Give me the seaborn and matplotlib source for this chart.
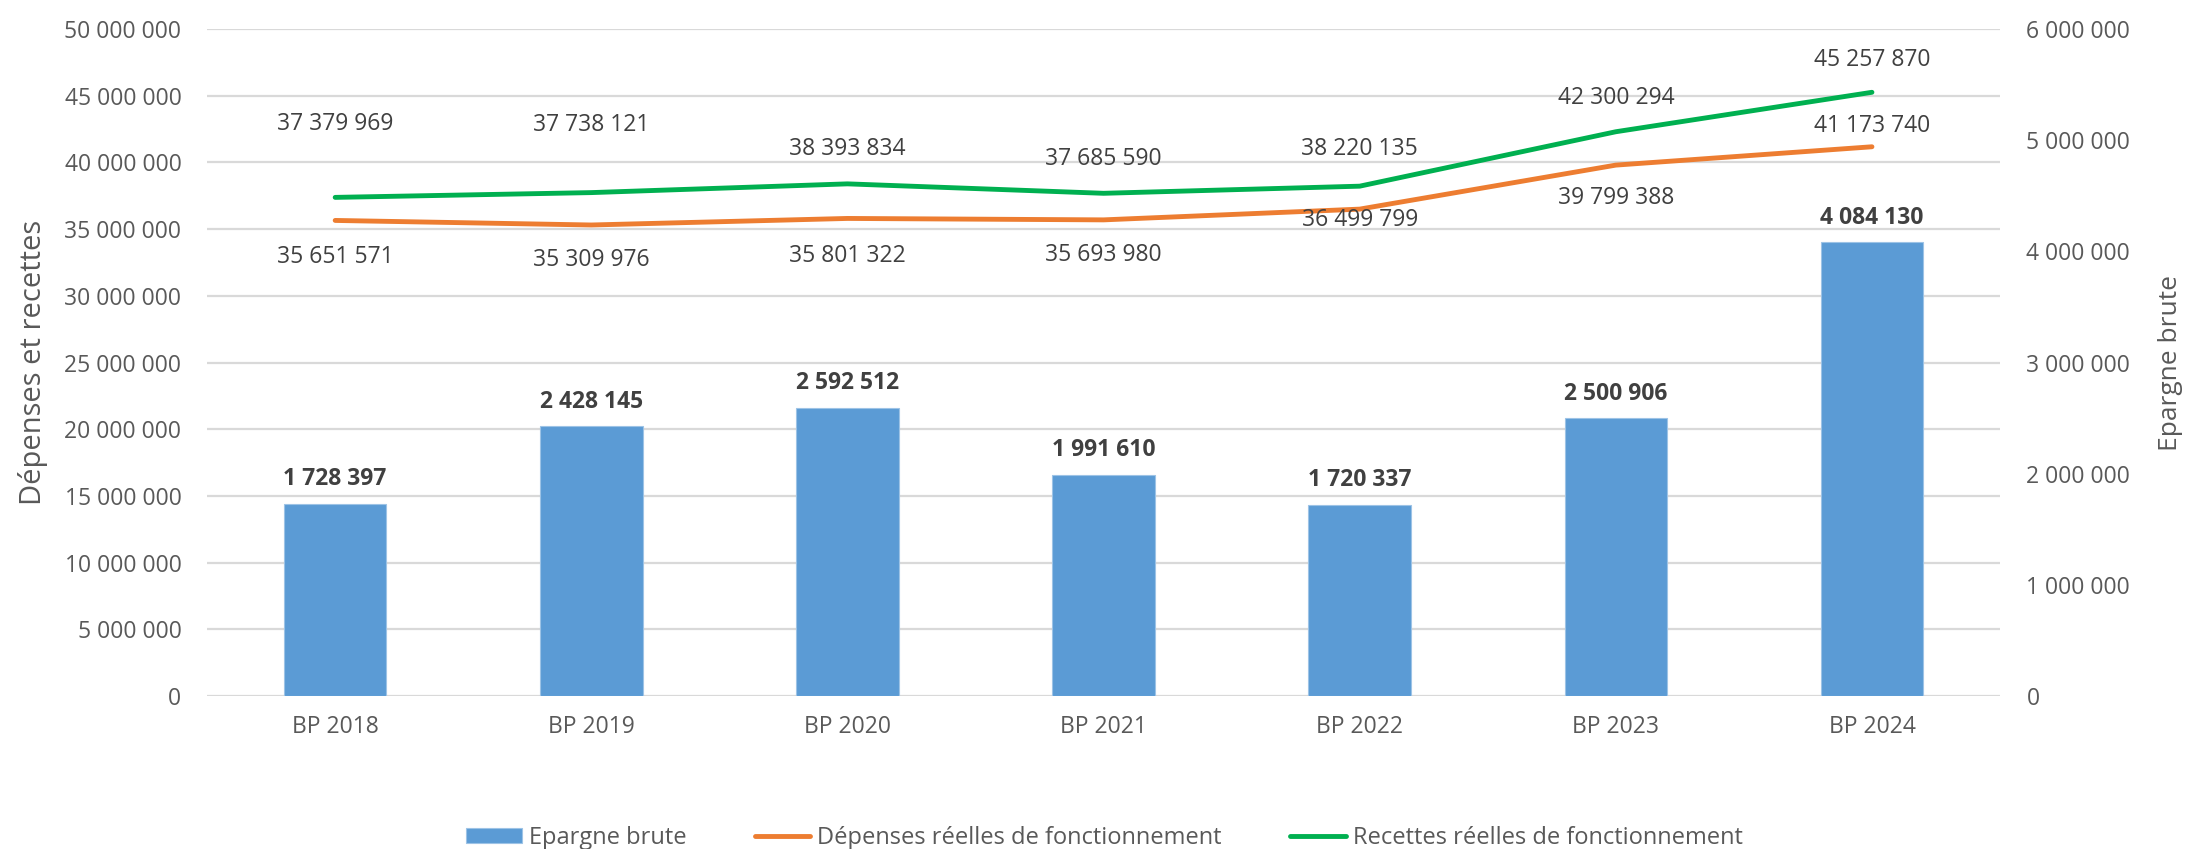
import matplotlib
matplotlib.use("Agg")
import matplotlib.pyplot as plt
import seaborn as sns
import pandas as pd
import numpy as np

categories = ["BP 2018", "BP 2019", "BP 2020", "BP 2021", "BP 2022", "BP 2023", "BP 2024"]
epargne_brute = [1728397, 2428145, 2592512, 1991610, 1720337, 2500906, 4084130]
depenses = [35651571, 35309976, 35801322, 35693980, 36499799, 39799388, 41173740]
recettes = [37379969, 37738121, 38393834, 37685590, 38220135, 42300294, 45257870]
left_ticks = list(range(0, 50000001, 5000000))
right_ticks = list(range(0, 6000001, 1000000))

# label offsets (points) for line data labels
rec_off = [53, 49, 25, 25, 27, 24, 23]
dep_off = [-26, -25, -27, -25, -8, -24, 15]

def fmt(v):
    return f"{v:,}".replace(",", " ")

sns.set_theme(style="white")
plt.rcParams["font.family"] = ["Open Sans", "DejaVu Sans"]

BLUE = "#5B9BD5"
ORANGE = "#ED7D31"
GREEN = "#00B050"
TXT = "#595959"
LBL = "#404040"
GRID = "#D9D9D9"

fig = plt.figure(figsize=(21.87, 8.49), dpi=100)
ax = fig.add_axes([0.0947, 0.1802, 0.9145 - 0.0947, 0.9658 - 0.1802])
ax2 = ax.twinx()

df = pd.DataFrame({"cat": categories, "ep": epargne_brute, "dep": depenses, "rec": recettes})

# bars on secondary axis
sns.barplot(data=df, x="cat", y="ep", ax=ax2, color=BLUE, width=0.4, saturation=1,
            edgecolor="#9DC3E6", linewidth=0.8, label="Epargne brute", zorder=2)
# lines on primary axis
sns.lineplot(data=df, x="cat", y="dep", ax=ax, color=ORANGE, linewidth=3.5,
             label="Dépenses réelles de fonctionnement", sort=False, zorder=3)
sns.lineplot(data=df, x="cat", y="rec", ax=ax, color=GREEN, linewidth=3.5,
             label="Recettes réelles de fonctionnement", sort=False, zorder=3)
for ln in ax.get_lines():
    ln.set_solid_capstyle("round")

# bring lines axis on top of bars
ax.set_zorder(ax2.get_zorder() + 1)
ax.patch.set_visible(False)

ax.set_xlim(-0.5, len(categories) - 0.5)
ax2.set_xlim(-0.5, len(categories) - 0.5)
ax.set_ylim(0, 50000000)
ax2.set_ylim(0, 6000000)
ax.set_yticks(left_ticks)
ax.set_yticklabels([fmt(v) for v in left_ticks])
ax2.set_yticks(right_ticks)
ax2.set_yticklabels([fmt(v) for v in right_ticks])

# gridlines (drawn on bar axis so they sit behind bars)
for v in left_ticks:
    ax2.axhline(v / 50000000 * 6000000, color=GRID, linewidth=1.6, zorder=0)

for a in (ax, ax2):
    for s in a.spines.values():
        s.set_visible(False)
    a.tick_params(axis="both", length=0, labelsize=16.5, colors=TXT)
    a.set_xlabel("")
ax.tick_params(axis="y", pad=18.5)
ax2.tick_params(axis="y", pad=19)
ax.tick_params(axis="x", pad=14)
ax2.tick_params(axis="x", labelbottom=False)

ax.set_ylabel("Dépenses et recettes", fontsize=21, color=TXT, labelpad=12)
ax2.set_ylabel("Epargne brute", fontsize=19, color=TXT, labelpad=20)

# data labels
for i, v in enumerate(epargne_brute):
    ax2.annotate(fmt(v), (i, v), xytext=(0, 9), textcoords="offset points",
                 ha="center", va="bottom", fontsize=16.5, fontweight="bold", color=LBL)
for i, v in enumerate(recettes):
    ax.annotate(fmt(v), (i, v), xytext=(0, rec_off[i]), textcoords="offset points",
                ha="center", va="center", fontsize=16.5, color=LBL)
for i, v in enumerate(depenses):
    ax.annotate(fmt(v), (i, v), xytext=(0, dep_off[i]), textcoords="offset points",
                ha="center", va="center", fontsize=16.5, color=LBL)

# legend
h1, l1 = ax2.get_legend_handles_labels()
h2, l2 = ax.get_legend_handles_labels()
if ax.get_legend():
    ax.get_legend().remove()
if ax2.get_legend():
    ax2.get_legend().remove()
fig.legend(h1 + h2, l1 + l2, loc="center", bbox_to_anchor=(0.505, 0.013), ncol=3,
           frameon=False, fontsize=17, labelcolor=TXT, handlelength=2.35,
           handleheight=0.6, handletextpad=0.3, columnspacing=2.9, borderaxespad=0)

fig.savefig("out.png", dpi=100)
